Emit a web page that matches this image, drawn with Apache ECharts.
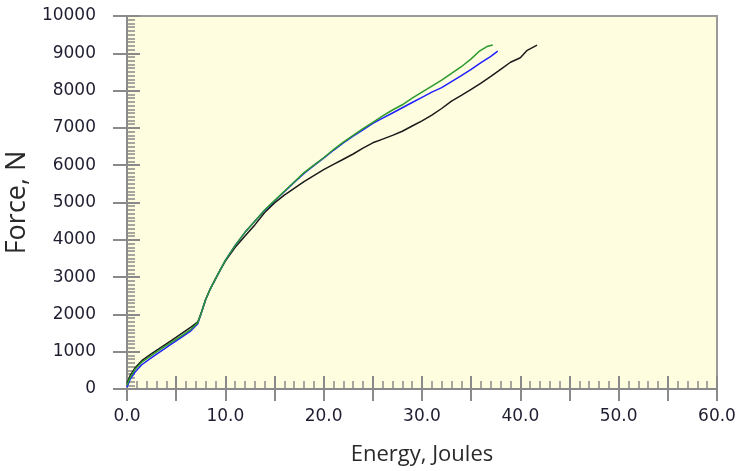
<!DOCTYPE html>
<html>
<head>
<meta charset="utf-8">
<script src="https://cdn.jsdelivr.net/npm/echarts@6/dist/echarts.min.js"></script>
<style>
  html, body { margin: 0; padding: 0; background: #fff; }
  #chart { width: 739px; height: 471px; }
</style>
</head>
<body>
<div id="chart"></div>
<script>
// energy (J), force (N) pairs
const greenCurve = [
  [0, 100], [0.3, 300], [0.8, 520], [1.5, 720], [2.5, 900], [3.5, 1080], [4.5, 1250],
  [5.5, 1420], [6.5, 1600], [7.2, 1780], [7.5, 2000], [8.0, 2400], [8.5, 2700], [9.0, 2950],
  [9.5, 3200], [10, 3450], [11, 3850], [12, 4200], [13, 4500], [14, 4800], [15, 5050],
  [16, 5300], [17, 5550], [18, 5800], [19, 6000], [20, 6200], [21, 6420], [22, 6620],
  [23, 6800], [24, 6980], [25, 7150], [26, 7320], [27, 7480], [28, 7620], [29, 7800],
  [30, 7960], [31, 8120], [32, 8280], [33, 8460], [34, 8640], [35, 8850], [35.8, 9050],
  [36.6, 9180], [37.2, 9220]
];
const blueCurve = [
  [0, 50], [0.3, 250], [0.8, 450], [1.5, 650], [2.5, 840], [3.5, 1020], [4.5, 1200],
  [5.5, 1380], [6.5, 1560], [7.2, 1750], [7.5, 2000], [8.0, 2400], [8.5, 2700], [9.0, 2950],
  [9.5, 3200], [10, 3450], [11, 3850], [12, 4200], [13, 4500], [14, 4790], [15, 5040],
  [16, 5290], [17, 5540], [18, 5780], [19, 5990], [20, 6190], [21, 6400], [22, 6600],
  [23, 6780], [24, 6950], [25, 7120], [26, 7260], [27, 7400], [28, 7540], [29, 7680],
  [30, 7820], [31, 7960], [32, 8080], [33, 8240], [34, 8400], [35, 8570], [36, 8750],
  [37, 8920], [37.7, 9060]
];
const blackCurve = [
  [0, 150], [0.3, 350], [0.8, 560], [1.5, 760], [2.5, 950], [3.5, 1120], [4.5, 1300],
  [5.5, 1480], [6.5, 1660], [7.2, 1800], [7.5, 2000], [8.0, 2400], [8.5, 2700], [9.0, 2950],
  [9.5, 3200], [10, 3430], [11, 3800], [12, 4100], [13, 4400], [14, 4730], [15, 4990],
  [16, 5200], [17, 5380], [18, 5560], [19, 5720], [20, 5880], [21, 6020], [22, 6160],
  [23, 6300], [24, 6460], [25, 6600], [26, 6700], [27, 6800], [28, 6910], [29, 7050],
  [30, 7190], [31, 7340], [32, 7520], [33, 7720], [34, 7870], [35, 8030], [36, 8200],
  [37, 8380], [38, 8570], [39, 8760], [40, 8880], [40.7, 9080], [41.7, 9220]
];

const xMin = 0, xMax = 60, xStep = 5;
const yMin = 0, yMax = 10000, yStep = 1000;

const gray = '#8a8a8a';
const labelFont = 'DejaVu Sans';
const labelColor = '#1e1e30';

const chart = echarts.init(document.getElementById('chart'));

// axis [0] of each dimension: inner ticks + minor ticks + labels; axis [1]: outer half of major ticks
chart.setOption({
  animation: false,
  grid: {
    left: 127, right: 22, top: 16, bottom: 82,
    show: true,
    backgroundColor: '#fefde0',
    borderColor: '#9a9a9a',
    borderWidth: 2,
    outerBoundsMode: 'none'
  },
  xAxis: [
    {
      type: 'value', min: xMin, max: xMax, interval: xStep, position: 'bottom',
      name: 'Energy, Joules', nameLocation: 'middle', nameGap: 55,
      nameTextStyle: { fontFamily: 'Open Sans', fontSize: 22, color: '#2a2a2a' },
      axisLine: { show: true, lineStyle: { color: gray, width: 2 } },
      axisTick: { show: true, inside: true, length: 13, lineStyle: { color: gray, width: 2 } },
      minorTick: { show: true, splitNumber: 5, length: 8, lineStyle: { color: gray, width: 1.5 } },
      axisLabel: {
        margin: 19, fontFamily: labelFont, fontSize: 17, color: labelColor,
        formatter: v => (v % 10 === 0 ? v.toFixed(1) : '')
      },
      splitLine: { show: false }
    },
    {
      type: 'value', min: xMin, max: xMax, interval: xStep, position: 'bottom',
      axisLine: { show: true, lineStyle: { color: gray, width: 2 } },
      axisTick: { show: true, length: 12, lineStyle: { color: gray, width: 2 } },
      axisLabel: { show: false },
      splitLine: { show: false }
    }
  ],
  yAxis: [
    {
      type: 'value', min: yMin, max: yMax, interval: yStep, position: 'left',
      name: 'Force, N', nameLocation: 'middle', nameGap: 89,
      nameTextStyle: { fontFamily: 'Open Sans', fontSize: 27, color: '#2a2a2a' },
      axisLine: { show: true, lineStyle: { color: gray, width: 2 } },
      axisTick: { show: true, inside: true, length: 13, lineStyle: { color: gray, width: 2 } },
      minorTick: { show: true, splitNumber: 10, length: 8, lineStyle: { color: gray, width: 1.5 } },
      axisLabel: {
        margin: 31, fontFamily: labelFont, fontSize: 17, color: labelColor,
        formatter: v => String(v)
      },
      splitLine: { show: false }
    },
    {
      type: 'value', min: yMin, max: yMax, interval: yStep, position: 'left',
      axisLine: { show: true, lineStyle: { color: gray, width: 2 } },
      axisTick: { show: true, length: 14, lineStyle: { color: gray, width: 2 } },
      axisLabel: { show: false },
      splitLine: { show: false }
    }
  ],
  series: [
    {
      name: 'black', type: 'line', data: blackCurve, showSymbol: false,
      xAxisIndex: 0, yAxisIndex: 0,
      lineStyle: { color: '#1a1a1a', width: 1.5 }, z: 3
    },
    {
      name: 'blue', type: 'line', data: blueCurve, showSymbol: false,
      xAxisIndex: 0, yAxisIndex: 0,
      lineStyle: { color: '#1f1fff', width: 1.5 }, z: 4
    },
    {
      name: 'green', type: 'line', data: greenCurve, showSymbol: false,
      xAxisIndex: 0, yAxisIndex: 0,
      lineStyle: { color: '#2c9a2c', width: 1.5 }, z: 5
    }
  ]
});
</script>
</body>
</html>
